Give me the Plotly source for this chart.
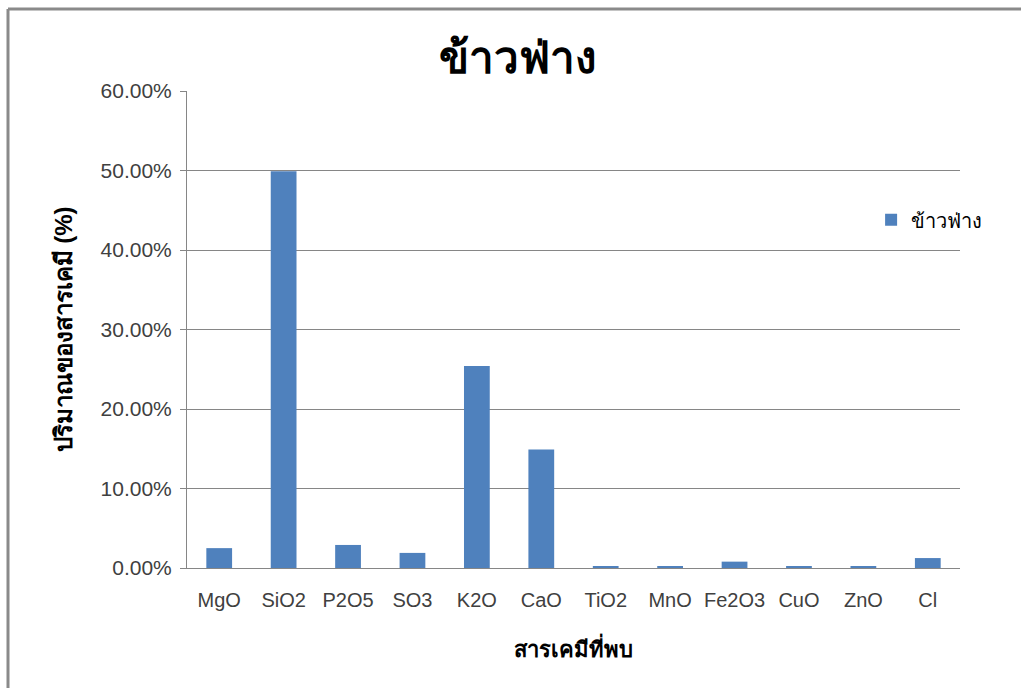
import plotly.graph_objects as go

# Chemical composition of sorghum (ข้าวฟ่าง) ash, fractional amounts
compounds = ["MgO", "SiO2", "P2O5", "SO3", "K2O", "CaO", "TiO2", "MnO", "Fe2O3", "CuO", "ZnO", "Cl"]
amounts = [0.025, 0.499, 0.029, 0.019, 0.254, 0.149, 0.002, 0.002, 0.008, 0.002, 0.002, 0.0125]
y_ticks = [0.0, 0.1, 0.2, 0.3, 0.4, 0.5, 0.6]

series_name = "ข้าวฟ่าง"
chart_title = "ข้าวฟ่าง"
x_title = "สารเคมีที่พบ"
y_title = "ปริมาณของสารเคมี (%)"

FONT = "Liberation Sans, Arial, sans-serif"
AXIS_GREY = "#868686"
TEXT_GREY = "#404040"

fig = go.Figure(
    go.Bar(
        x=compounds,
        y=amounts,
        name=series_name,
        marker=dict(color="#4F81BD", line=dict(width=0)),
        showlegend=True,
    )
)

fig.update_layout(
    width=1021,
    height=688,
    paper_bgcolor="white",
    plot_bgcolor="white",
    margin=dict(l=187, r=61, t=91, b=120),
    bargap=0.6,
    font=dict(family=FONT, size=20, color=TEXT_GREY),
    title=dict(
        text=f"<b>{chart_title}</b>",
        x=0.507,
        xanchor="center",
        y=1 - 58 / 688,
        yanchor="middle",
        font=dict(size=44, color="black", family=FONT),
    ),
    legend=dict(
        x=0.885,
        xanchor="left",
        y=0.73,
        yanchor="middle",
        bgcolor="rgba(0,0,0,0)",
        font=dict(size=20, color="black"),
        itemwidth=30,
    ),
    xaxis=dict(
        showline=True,
        linecolor=AXIS_GREY,
        linewidth=1,
        ticks="",
        ticklabelstandoff=14,
        showgrid=False,
        tickfont=dict(size=20, color=TEXT_GREY),
        title=dict(text=f"<b>{x_title}</b>", font=dict(size=22, color="black"), standoff=31),
    ),
    yaxis=dict(
        range=[0, 0.6],
        tickvals=y_ticks,
        tickformat=".2%",
        showline=True,
        linecolor=AXIS_GREY,
        linewidth=1,
        ticks="outside",
        ticklen=6,
        tickcolor=AXIS_GREY,
        ticklabelstandoff=4,
        showgrid=True,
        gridcolor=AXIS_GREY,
        gridwidth=1,
        zeroline=False,
        tickfont=dict(size=21, color=TEXT_GREY),
        title=dict(text=f"<b>{y_title}</b>", font=dict(size=24, color="black"), standoff=21),
    ),
)

# Grey frame around the chart area (top and left edges)
fig.add_shape(type="line", xref="paper", yref="paper",
              x0=(8 - 187) / 773, x1=(1021 - 187) / 773,
              y0=(568 - 9) / 477, y1=(568 - 9) / 477,
              line=dict(color="#8a8a8a", width=3))
fig.add_shape(type="line", xref="paper", yref="paper",
              x0=(8 - 187) / 773, x1=(8 - 187) / 773,
              y0=(568 - 9) / 477, y1=(568 - 688) / 477,
              line=dict(color="#8a8a8a", width=3))

fig.write_html("out.html")
